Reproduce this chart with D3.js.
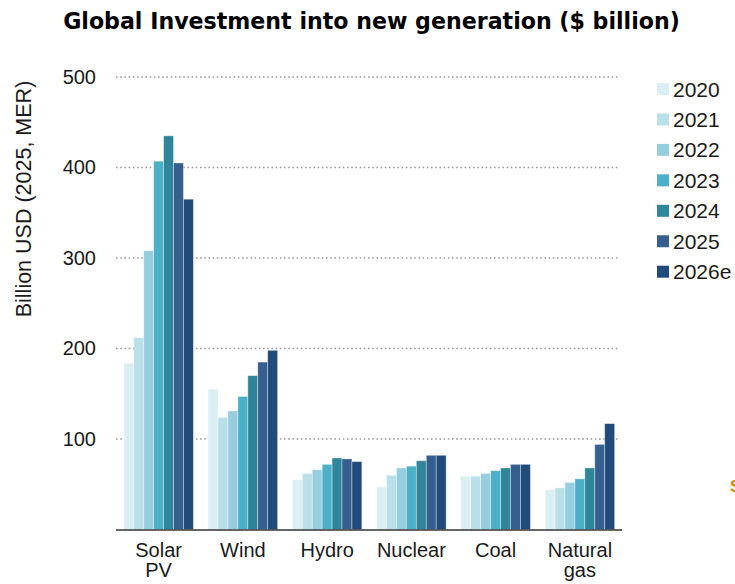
<!DOCTYPE html>
<html>
<head>
<meta charset="utf-8">
<script src="https://cdn.jsdelivr.net/npm/d3@7"></script>
<style>
  html, body { margin: 0; padding: 0; background: #ffffff; }
  svg { display: block; }
</style>
</head>
<body>
<svg id="chart" width="735" height="584"></svg>
<script>
// Technologies on the x axis (label lines)
const categories = ["Solar PV", "Wind", "Hydro", "Nuclear", "Coal", "Natural gas"];
const categoryLines = [["Solar", "PV"], ["Wind"], ["Hydro"], ["Nuclear"], ["Coal"], ["Natural", "gas"]];
const years = ["2020", "2021", "2022", "2023", "2024", "2025", "2026e"];
const yearColors = ["#dbeef4", "#b9dfe9", "#96cddf", "#4cafc8", "#2f8599", "#355f8f", "#214a7d"];

// Investment, $ billion (2025, MER), one array per technology, ordered by year
const solarPV  = [184, 212, 308, 407, 435, 405, 365];
const wind     = [155, 124, 131, 147, 170, 185, 198];
const hydro    = [55, 62, 66, 72, 79, 78, 75];
const nuclear  = [47, 60, 68, 70, 76, 82, 82];
const coal     = [59, 59, 62, 65, 68, 72, 72];
const naturalGas = [44, 46, 52, 56, 68, 94, 117];
const seriesByCategory = [solarPV, wind, hydro, nuclear, coal, naturalGas];

const yTicks = [100, 200, 300, 400, 500];

const svg = d3.select("#chart");
const axisFont = "'Liberation Sans', Arial, sans-serif";

const x = d3.scaleBand().domain(categories).range([116.5, 622]).paddingInner(0.175).paddingOuter(0.0875);
const xYear = d3.scaleBand().domain(years).range([0, x.bandwidth()]).padding(0);
const y = d3.scaleLinear().domain([0, 500]).range([529.5, 77]);
const color = d3.scaleOrdinal().domain(years).range(yearColors);

// Title
const title = svg.append("text")
  .attr("x", 371.5).attr("y", 29)
  .attr("text-anchor", "middle")
  .style("font-family", "'DejaVu Sans', 'Open Sans', sans-serif")
  .style("font-weight", 700)
  .style("font-size", "20px")
  .style("fill", "#000")
  .text("Global Investment into new generation ($ billion)");
const tw = title.node().getComputedTextLength();
title.style("font-size", (20 * 617 / tw).toFixed(2) + "px");

// Dotted gridlines
svg.append("g")
  .selectAll("line")
  .data(yTicks)
  .join("line")
  .attr("x1", 116).attr("x2", 620)
  .attr("y1", d => y(d)).attr("y2", d => y(d))
  .attr("stroke", "#9a9a9a")
  .attr("stroke-width", 1.6)
  .attr("stroke-dasharray", "1.6,2.6");

// Y axis tick labels
const yAxis = d3.axisLeft(y).tickValues(yTicks).tickSize(0).tickPadding(0);
const gy = svg.append("g").attr("transform", "translate(96,0)").call(yAxis);
gy.select(".domain").remove();
gy.selectAll("text")
  .style("font-family", axisFont)
  .style("font-size", "20px")
  .style("fill", "#1a1a1a");

// Y axis title
svg.append("text")
  .attr("transform", "translate(31,199) rotate(-90)")
  .attr("text-anchor", "middle")
  .style("font-family", axisFont)
  .style("font-size", "21.5px")
  .style("fill", "#1a1a1a")
  .text("Billion USD (2025, MER)");

// Bars
const groups = svg.append("g")
  .selectAll("g")
  .data(categories)
  .join("g")
  .attr("transform", d => `translate(${x(d)},0)`);

groups.selectAll("rect")
  .data((d, i) => years.map((yr, j) => ({ year: yr, value: seriesByCategory[i][j] })))
  .join("rect")
  .attr("x", d => xYear(d.year))
  .attr("width", xYear.bandwidth())
  .attr("y", d => y(d.value))
  .attr("height", d => y(0) - y(d.value))
  .attr("fill", d => color(d.year))
  .attr("stroke", "#ffffff")
  .attr("stroke-opacity", 0.45)
  .attr("stroke-width", 0.8);

// X axis baseline and category labels
const xAxis = d3.axisBottom(x).tickSize(0).tickFormat("");
const gx = svg.append("g").attr("transform", `translate(0,${y(0) + 0.5})`).call(xAxis);
gx.select(".domain")
  .attr("stroke", "#333")
  .attr("stroke-width", 1.6)
  .attr("d", "M116,0H622");

svg.append("g")
  .selectAll("text")
  .data(categories)
  .join("text")
  .attr("x", (d, i) => x(d) + x.bandwidth() / 2)
  .attr("y", 557)
  .attr("text-anchor", "middle")
  .style("font-family", axisFont)
  .style("font-size", "20px")
  .style("fill", "#1a1a1a")
  .each(function (d, i) {
    const t = d3.select(this);
    categoryLines[i].forEach((line, k) => {
      t.append("tspan")
        .attr("x", x(d) + x.bandwidth() / 2)
        .attr("dy", k === 0 ? 0 : 20)
        .text(line);
    });
  });

// Legend
const legend = svg.append("g")
  .selectAll("g")
  .data(years)
  .join("g")
  .attr("transform", (d, i) => `translate(657,${89 + i * 30.45})`);
legend.append("rect")
  .attr("x", 0).attr("y", -6)
  .attr("width", 12).attr("height", 12)
  .attr("fill", d => color(d));
legend.append("text")
  .attr("x", 16).attr("y", 7.5)
  .style("font-family", axisFont)
  .style("font-size", "21px")
  .style("fill", "#1a1a1a")
  .text(d => d);

// Clipped footnote mark at the right edge
svg.append("text")
  .attr("x", 730).attr("y", 492)
  .style("font-family", axisFont)
  .style("font-weight", 700)
  .style("font-size", "17px")
  .style("fill", "#d9860f")
  .text("S");
</script>
</body>
</html>
